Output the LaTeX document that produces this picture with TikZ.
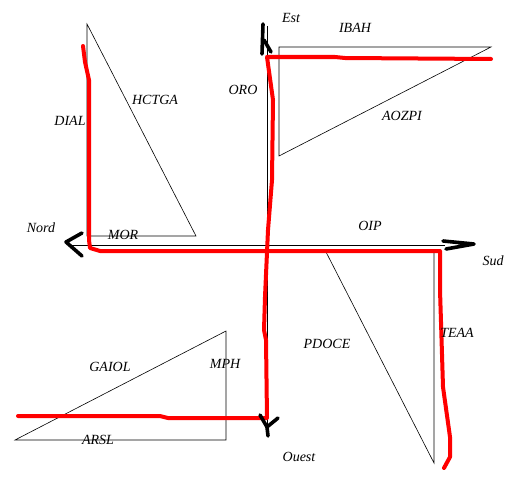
\documentclass[tikz,border=0pt]{standalone}
\usepackage{fontspec}
\setmainfont{Liberation Serif}
\usetikzlibrary{positioning}

\begin{document}
\begin{tikzpicture}[
  x=1pt, y=-1pt,
  tri/.style   = {draw, line width=0.6pt},
  axis/.style  = {draw, line width=0.7pt},
  route/.style = {draw=red, line width=4pt, line join=round, line cap=round},
  tip/.style   = {draw, line width=3.6pt, line join=round, line cap=round},
  lbl/.style   = {font=\fontsize{14}{16}\selectfont\itshape, inner sep=0pt},
]
\useasboundingbox (0,0) rectangle (516,487);

% Triangles
\draw[tri] (87,24) -- (87,236) -- (196,236) -- cycle;
\draw[tri] (279,47) -- (491,47) -- (279,156) -- cycle;
\draw[tri] (326,252) -- (434,252) -- (434,463) -- cycle;
\draw[tri] (15,440) -- (226,440) -- (226,331) -- cycle;

% Axes
\draw[axis] (68,245) -- (445,245);
\draw[axis] (267,26) -- (267,426);

% Route
\draw[route] (83,46) -- (85,62) -- (89,80) -- (89,240) -- (90,248)
  -- (100,251) -- (440,251) -- (440,290) -- (441,322) -- (443,387)
  -- (450,437) -- (450,457) -- (444,468);
\draw[route] (491,59) -- (345,58) -- (335,57) -- (267,57) -- (273,100)
  -- (272,180) -- (268,230) -- (265,297) -- (264,330) -- (266,340)
  -- (267,418) -- (168,418) -- (160,416) -- (18,416);

% Heads
\draw[tip] (262,54) -- (263,24);
\draw[tip] (264,40) -- (271,52);
\draw[tip] (443,241) -- (474,244) -- (446,249);
\draw[tip] (82,233) -- (66,242) -- (82,256);
\draw[tip] (260,415) -- (267,427) -- (278,418);
\draw[tip] (267,427) -- (268,436);

% Labels
\node[lbl] (est)   at (291,18)  {Est};
\node[lbl] (ibah)  at (355,28)  {IBAH};
\node[lbl] (oro)   at (243,90)  {ORO};
\node[lbl] (aozpi) at (402,116) {AOZPI};
\node[lbl] (hctga) at (155,100) {HCTGA};
\node[lbl] (dial)  at (70,121)  {DIAL};
\node[lbl] (nord)  at (41,228)  {Nord};
\node[lbl] (mor)   at (123,235) {MOR};
\node[lbl] (oip)   at (370,226) {OIP};
\node[lbl] (sud)   at (493,261) {Sud};
\node[lbl] (pdoce) at (327,344) {PDOCE};
\node[lbl] (teaa)  at (457,333) {TEAA};
\node[lbl] (gaiol) at (110,367) {GAIOL};
\node[lbl] (mph)   at (225,364) {MPH};
\node[lbl] (arsl)  at (98,440)  {ARSL};
\node[lbl] (ouest) at (299,457) {Ouest};
\end{tikzpicture}
\end{document}
